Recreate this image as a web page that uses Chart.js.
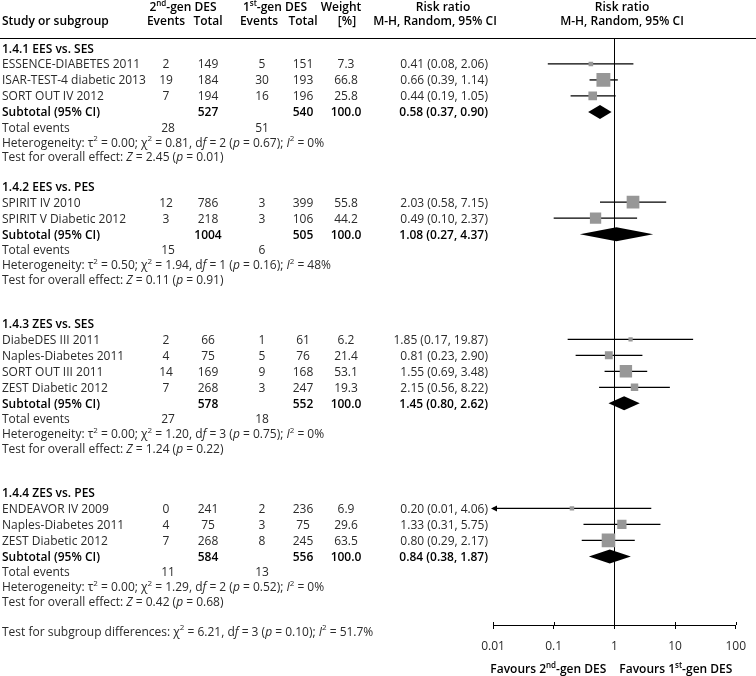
<!DOCTYPE html>
<html>
<head>
<meta charset="utf-8">
<script src="https://cdn.jsdelivr.net/npm/chart.js@4.4.1/dist/chart.umd.min.js"></script>
<style>
  html, body { margin: 0; padding: 0; background: #fff; }
  #wrap { width: 756px; height: 676px; position: relative; }
</style>
</head>
<body>
<div id="wrap"><canvas id="forest"></canvas></div>
<script>
// --- data ---
const groupTitles = ['1.4.1 EES vs. SES', '1.4.2 EES vs. PES', '1.4.3 ZES vs. SES', '1.4.4 ZES vs. PES'];

const studyNames = [
    'ESSENCE-DIABETES 2011', 'ISAR-TEST-4 diabetic 2013', 'SORT OUT IV 2012',
    'SPIRIT IV 2010', 'SPIRIT V Diabetic 2012',
    'DiabeDES III 2011', 'Naples-Diabetes 2011', 'SORT OUT III 2011', 'ZEST Diabetic 2012',
    'ENDEAVOR IV 2009', 'Naples-Diabetes 2011', 'ZEST Diabetic 2012'
];
const studyGroup = [0, 0, 0, 1, 1, 2, 2, 2, 2, 3, 3, 3];
const events2nd = [2, 19, 7, 12, 3, 2, 4, 14, 7, 0, 4, 7];
const total2nd = [149, 184, 194, 786, 218, 66, 75, 169, 268, 241, 75, 268];
const events1st = [5, 30, 16, 3, 3, 1, 5, 9, 3, 2, 3, 8];
const total1st = [151, 193, 196, 399, 106, 61, 76, 168, 247, 236, 75, 245];
const weights = [7.3, 66.8, 25.8, 55.8, 44.2, 6.2, 21.4, 53.1, 19.3, 6.9, 29.6, 63.5];
const riskRatio = [0.41, 0.66, 0.44, 2.03, 0.49, 1.85, 0.81, 1.55, 2.15, 0.20, 1.33, 0.80];
const ciLower = [0.08, 0.39, 0.19, 0.58, 0.10, 0.17, 0.23, 0.69, 0.56, 0.01, 0.31, 0.29];
const ciUpper = [2.06, 1.14, 1.05, 7.15, 2.37, 19.87, 2.90, 3.48, 8.22, 4.06, 5.75, 2.17];

const subTotal2nd = [527, 1004, 578, 584];
const subTotal1st = [540, 505, 552, 556];
const subWeight = [100.0, 100.0, 100.0, 100.0];
const subRR = [0.58, 1.08, 1.45, 0.84];
const subLower = [0.37, 0.27, 0.80, 0.38];
const subUpper = [0.90, 4.37, 2.62, 1.87];
const totalEvents2nd = [28, 15, 27, 11];
const totalEvents1st = [51, 6, 18, 13];

// _x_ = italic, ^x^ = superscript
const heterogeneity = [
    'Heterogeneity: τ^2^ = 0.00; χ^2^ = 0.81, d_f_ = 2 (_p_ = 0.67); _I_^2^ = 0%',
    'Heterogeneity: τ^2^ = 0.50; χ^2^ = 1.94, d_f_ = 1 (_p_ = 0.16); _I_^2^ = 48%',
    'Heterogeneity: τ^2^ = 0.00; χ^2^ = 1.20, d_f_ = 3 (_p_ = 0.75); _I_^2^ = 0%',
    'Heterogeneity: τ^2^ = 0.00; χ^2^ = 1.29, d_f_ = 2 (_p_ = 0.52); _I_^2^ = 0%'
];
const overallEffect = [
    'Test for overall effect: _Z_ = 2.45 (_p_ = 0.01)',
    'Test for overall effect: _Z_ = 0.11 (_p_ = 0.91)',
    'Test for overall effect: _Z_ = 1.24 (_p_ = 0.22)',
    'Test for overall effect: _Z_ = 0.42 (_p_ = 0.68)'
];
const subgroupDiff = 'Test for subgroup differences: χ^2^ = 6.21, d_f_ = 3 (_p_ = 0.10); _I_^2^ = 51.7%';

const xTicks = [0.01, 0.1, 1, 10, 100];
const favoursLeft = 'Favours 2^nd^-gen DES';
const favoursRight = 'Favours 1^st^-gen DES';

// --- layout ---
const FAMILY = '"Open Sans", "Noto Sans", sans-serif';
const TEXT = '#2a2a2a';
const COL = { name: 2, ev2: 166, tot2: 208, ev1: 262, tot1: 303, wt: 346, rr: 488 };
const blankBefore = [0, 1, 2, 2]; // empty rows above each subgroup
const LINE_H = 14.85;  // plain text rows
const STUDY_H = 16;    // rows with a box or diamond

// build the row list, one entry per text line
const rows = [];
groupTitles.forEach((title, g) => {
    for (let b = 0; b < blankBefore[g]; b++) rows.push({ kind: 'blank' });
    rows.push({ kind: 'title', g });
    studyNames.forEach((n, i) => { if (studyGroup[i] === g) rows.push({ kind: 'study', i }); });
    rows.push({ kind: 'subtotal', g });
    rows.push({ kind: 'events', g });
    rows.push({ kind: 'text', str: heterogeneity[g] });
    rows.push({ kind: 'text', str: overallEffect[g] });
});
rows.push({ kind: 'blank' });
rows.push({ kind: 'text', str: subgroupDiff });

// running row centre, in the units of the y scale
let prevH = LINE_H;
rows.forEach((r, idx) => {
    const h = (r.kind === 'study' || r.kind === 'subtotal') ? STUDY_H : LINE_H;
    r.pos = idx === 0 ? 0 : rows[idx - 1].pos + (prevH + h) / 2;
    prevH = h;
});
const studyRow = [];
rows.forEach(r => { if (r.kind === 'study') studyRow[r.i] = r.pos; });

function parseRich(str) {
    const segs = [];
    let it = false, sup = false, buf = '';
    for (const ch of str) {
        if (ch === '_' || ch === '^') {
            if (buf) segs.push({ t: buf, i: it, s: sup });
            buf = '';
            if (ch === '_') it = !it; else sup = !sup;
        } else buf += ch;
    }
    if (buf) segs.push({ t: buf, i: it, s: sup });
    return segs;
}

function segFont(seg, bold) {
    return (seg.i ? 'italic ' : '') + (bold ? '600 ' : '') + (seg.s ? 8 : 12) + 'px ' + FAMILY;
}

function drawRich(ctx, str, x, y, align, bold) {
    const segs = parseRich(String(str));
    let w = 0;
    segs.forEach(s => { ctx.font = segFont(s, bold); s.w = ctx.measureText(s.t).width; w += s.w; });
    let cx = align === 'center' ? x - w / 2 : align === 'right' ? x - w : x;
    ctx.textAlign = 'left';
    ctx.textBaseline = 'middle';
    ctx.fillStyle = bold ? '#000' : TEXT;
    segs.forEach(s => {
        ctx.font = segFont(s, bold);
        ctx.fillText(s.t, cx, (s.s ? y - 4 : y) + 1);
        cx += s.w;
    });
}

const fmtCI = (r, l, u) => `${r.toFixed(2)} (${l.toFixed(2)}, ${u.toFixed(2)})`;

const forestPlugin = {
    id: 'forest',
    beforeDatasetsDraw(chart) {
        const { ctx, chartArea, scales: { x, y } } = chart;
        ctx.save();
        // line of no effect
        ctx.strokeStyle = '#000';
        ctx.lineWidth = 1;
        const x1 = Math.round(x.getPixelForValue(1)) + 0.5;
        ctx.beginPath();
        ctx.moveTo(x1, chartArea.top);
        ctx.lineTo(x1, chartArea.bottom);
        ctx.stroke();
        // confidence intervals
        ctx.lineWidth = 1.3;
        ctx.fillStyle = '#000';
        studyNames.forEach((n, i) => {
            const py = y.getPixelForValue(studyRow[i]);
            const lo = Math.max(ciLower[i], x.min);
            const left = x.getPixelForValue(lo);
            const right = x.getPixelForValue(ciUpper[i]);
            ctx.beginPath();
            ctx.moveTo(left, py);
            ctx.lineTo(right, py);
            ctx.stroke();
            if (ciLower[i] <= x.min) {
                ctx.beginPath();
                ctx.moveTo(left - 2, py);
                ctx.lineTo(left + 4, py - 3);
                ctx.lineTo(left + 4, py + 3);
                ctx.closePath();
                ctx.fill();
            }
        });
        ctx.restore();
    },
    afterDraw(chart) {
        const { ctx, chartArea, scales: { x, y } } = chart;
        ctx.save();
        // header
        drawRich(ctx, '2^nd^-gen DES', 183, 7, 'center', true);
        drawRich(ctx, '1^st^-gen DES', 275, 7, 'center', true);
        drawRich(ctx, 'Weight', 341, 7, 'center', true);
        drawRich(ctx, 'Risk ratio', 443, 7, 'center', true);
        drawRich(ctx, 'Risk ratio', 622, 7, 'center', true);
        drawRich(ctx, 'Study or subgroup', COL.name, 21, 'left', true);
        drawRich(ctx, 'Events', COL.ev2, 21, 'center', true);
        drawRich(ctx, 'Total', COL.tot2, 21, 'center', true);
        drawRich(ctx, 'Events', 259, 21, 'center', true);
        drawRich(ctx, 'Total', COL.tot1, 21, 'center', true);
        drawRich(ctx, '[%]', 347, 21, 'center', true);
        drawRich(ctx, 'M-H, Random, 95% CI', 435, 21, 'center', true);
        drawRich(ctx, 'M-H, Random, 95% CI', 622, 21, 'center', true);
        ctx.strokeStyle = '#000';
        ctx.lineWidth = 1;
        ctx.beginPath();
        ctx.moveTo(0, chartArea.top - 0.5);
        ctx.lineTo(chart.width, chartArea.top - 0.5);
        ctx.stroke();

        rows.forEach(r => {
            const py = y.getPixelForValue(r.pos);
            if (r.kind === 'title') {
                drawRich(ctx, groupTitles[r.g], COL.name, py, 'left', true);
            } else if (r.kind === 'study') {
                const i = r.i;
                drawRich(ctx, studyNames[i], COL.name, py, 'left');
                drawRich(ctx, events2nd[i], COL.ev2, py, 'center');
                drawRich(ctx, total2nd[i], COL.tot2, py, 'center');
                drawRich(ctx, events1st[i], COL.ev1, py, 'center');
                drawRich(ctx, total1st[i], COL.tot1, py, 'center');
                drawRich(ctx, weights[i].toFixed(1), COL.wt, py, 'center');
                drawRich(ctx, fmtCI(riskRatio[i], ciLower[i], ciUpper[i]), COL.rr, py, 'right');
            } else if (r.kind === 'subtotal') {
                const g = r.g;
                drawRich(ctx, 'Subtotal (95% CI)', COL.name, py, 'left', true);
                drawRich(ctx, subTotal2nd[g], COL.tot2, py, 'center', true);
                drawRich(ctx, subTotal1st[g], COL.tot1, py, 'center', true);
                drawRich(ctx, subWeight[g].toFixed(1), COL.wt, py, 'center', true);
                drawRich(ctx, fmtCI(subRR[g], subLower[g], subUpper[g]), COL.rr, py, 'right', true);
                // pooled diamond
                const l = x.getPixelForValue(subLower[g]);
                const m = x.getPixelForValue(subRR[g]);
                const u = x.getPixelForValue(subUpper[g]);
                ctx.fillStyle = '#000';
                ctx.beginPath();
                ctx.moveTo(l, py);
                ctx.lineTo(m, py - 7);
                ctx.lineTo(u, py);
                ctx.lineTo(m, py + 7);
                ctx.closePath();
                ctx.fill();
            } else if (r.kind === 'events') {
                drawRich(ctx, 'Total events', COL.name, py, 'left');
                drawRich(ctx, totalEvents2nd[r.g], COL.ev2 + 2, py, 'center');
                drawRich(ctx, totalEvents1st[r.g], COL.ev1, py, 'center');
            } else if (r.kind === 'text') {
                drawRich(ctx, r.str, COL.name, py, 'left');
            }
        });

        // small upward part of the axis ticks
        ctx.strokeStyle = '#000';
        ctx.lineWidth = 1;
        xTicks.forEach(v => {
            const px = Math.round(x.getPixelForValue(v)) + 0.5;
            ctx.beginPath();
            ctx.moveTo(px, chartArea.bottom - 3);
            ctx.lineTo(px, chartArea.bottom);
            ctx.stroke();
        });
        const xOne = x.getPixelForValue(1);
        drawRich(ctx, favoursLeft, xOne - 8, 669, 'right', true);
        drawRich(ctx, favoursRight, xOne + 5, 669, 'left', true);
        ctx.restore();
    }
};

const boxRadius = c => 1.7 * Math.sqrt(weights[c.dataIndex]) / Math.SQRT2;

new Chart(document.getElementById('forest'), {
    type: 'scatter',
    data: {
        datasets: [{
            label: 'Studies',
            data: studyNames.map((n, i) => ({ x: riskRatio[i], y: studyRow[i] })),
            pointStyle: 'rect',
            pointRadius: boxRadius,
            pointHoverRadius: boxRadius,
            backgroundColor: '#979797',
            borderWidth: 0
        }]
    },
    options: {
        responsive: true,
        maintainAspectRatio: false,
        animation: false,
        layout: { padding: { left: 493, right: 13, top: 39, bottom: 0 } },
        plugins: { legend: { display: false }, tooltip: { enabled: false } },
        scales: {
            x: {
                type: 'logarithmic',
                min: 0.01,
                max: 100,
                afterBuildTicks: axis => { axis.ticks = xTicks.map(v => ({ value: v })); },
                afterFit: axis => { axis.height = 51; },
                ticks: {
                    autoSkip: false,
                    maxRotation: 0,
                    padding: 10,
                    color: TEXT,
                    font: { family: FAMILY, size: 12 },
                    callback: v => String(v)
                },
                grid: { drawOnChartArea: false, drawTicks: true, tickLength: 4, color: '#000' },
                border: { display: true, color: '#000', width: 1 }
            },
            y: {
                type: 'linear',
                reverse: true,
                min: -9.5,      // chart top sits just above the first row
                max: 576.5,
                display: false
            }
        }
    },
    plugins: [forestPlugin]
});
</script>
</body>
</html>
